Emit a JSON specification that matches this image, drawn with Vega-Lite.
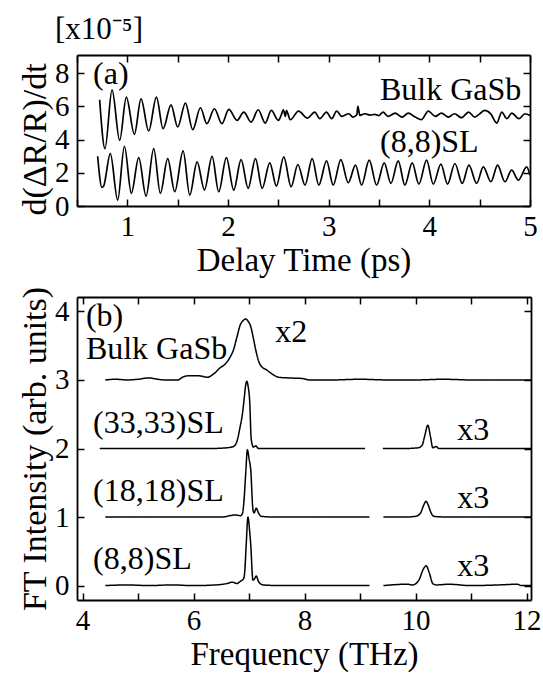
{
  "$schema": "https://vega.github.io/schema/vega-lite/v6.json",
  "background": "white",
  "padding": {"left": 18, "top": 14, "right": 5, "bottom": 5},
  "bounds": "flush",
  "spacing": 91,
  "config": {
    "font": "Liberation Serif",
    "view": {"stroke": null},
    "axis": {
      "labelFont": "Liberation Serif", "titleFont": "Liberation Serif",
      "labelFontSize": 29, "titleFontSize": 33, "titleFontWeight": "normal",
      "labelColor": "black", "titleColor": "black",
      "domainColor": "black", "tickColor": "black",
      "domainWidth": 1.8, "tickWidth": 1.5, "tickSize": -7,
      "grid": false, "labelPadding": 15, "labelFlush": false, "labelOverlap": false,
      "titlePadding": 2
    },
    "axisX": {"labelPadding": 13, "titlePadding": 3},
    "axisY": {"titleFontSize": 34},
    "title": {"font": "Liberation Serif", "fontWeight": "normal", "fontSize": 31, "color": "black"}
  },
  "vconcat": [
    {
      "width": 453, "height": 151,
      "title": {"text": "[x10⁻⁵]", "anchor": "start", "frame": "group", "dx": -22, "offset": 8},
      "layer": [
        {
          "data": {"values": [
            {"s":"bulk","t":0.725,"v":6.4},{"s":"bulk","t":0.778,"v":3.46},{"s":"bulk","t":0.848,"v":7.0},{"s":"bulk","t":0.924,"v":3.96},
            {"s":"bulk","t":0.99,"v":6.56},{"s":"bulk","t":1.07,"v":4.32},{"s":"bulk","t":1.136,"v":6.46},{"s":"bulk","t":1.212,"v":4.52},
            {"s":"bulk","t":1.289,"v":6.56},{"s":"bulk","t":1.355,"v":4.66},{"s":"bulk","t":1.434,"v":6.1},{"s":"bulk","t":1.5,"v":4.76},
            {"s":"bulk","t":1.577,"v":6.2},{"s":"bulk","t":1.65,"v":4.6},{"s":"bulk","t":1.726,"v":5.92},{"s":"bulk","t":1.79,"v":4.96},
            {"s":"bulk","t":1.865,"v":5.86},{"s":"bulk","t":1.94,"v":4.96},{"s":"bulk","t":2.008,"v":5.82},{"s":"bulk","t":2.09,"v":5.16},
            {"s":"bulk","t":2.157,"v":5.66},{"s":"bulk","t":2.23,"v":5.06},{"s":"bulk","t":2.3,"v":5.8},{"s":"bulk","t":2.37,"v":5.0},
            {"s":"bulk","t":2.43,"v":5.76},{"s":"bulk","t":2.5,"v":5.16},{"s":"bulk","t":2.53,"v":5.5},{"s":"bulk","t":2.55,"v":5.8},
            {"s":"bulk","t":2.57,"v":5.4},{"s":"bulk","t":2.58,"v":5.75},{"s":"bulk","t":2.62,"v":5.2},{"s":"bulk","t":2.7,"v":5.72},
            {"s":"bulk","t":2.79,"v":5.3},{"s":"bulk","t":2.862,"v":5.66},{"s":"bulk","t":2.912,"v":5.26},{"s":"bulk","t":2.978,"v":5.66},
            {"s":"bulk","t":3.03,"v":5.26},{"s":"bulk","t":3.08,"v":5.72},{"s":"bulk","t":3.13,"v":5.4},{"s":"bulk","t":3.2,"v":5.56},
            {"s":"bulk","t":3.24,"v":5.36},{"s":"bulk","t":3.28,"v":5.5},{"s":"bulk","t":3.29,"v":6.0},{"s":"bulk","t":3.31,"v":5.46},
            {"s":"bulk","t":3.36,"v":5.56},{"s":"bulk","t":3.41,"v":5.48},{"s":"bulk","t":3.46,"v":5.52},{"s":"bulk","t":3.5,"v":5.45},
            {"s":"bulk","t":3.54,"v":5.66},{"s":"bulk","t":3.59,"v":5.4},{"s":"bulk","t":3.66,"v":5.6},{"s":"bulk","t":3.73,"v":5.36},
            {"s":"bulk","t":3.79,"v":5.6},{"s":"bulk","t":3.86,"v":5.36},{"s":"bulk","t":3.92,"v":5.2},{"s":"bulk","t":3.99,"v":5.72},
            {"s":"bulk","t":4.06,"v":5.4},{"s":"bulk","t":4.12,"v":5.6},{"s":"bulk","t":4.19,"v":5.36},{"s":"bulk","t":4.25,"v":5.56},
            {"s":"bulk","t":4.32,"v":5.32},{"s":"bulk","t":4.39,"v":5.66},{"s":"bulk","t":4.45,"v":5.36},{"s":"bulk","t":4.5,"v":5.55},
            {"s":"bulk","t":4.55,"v":5.76},{"s":"bulk","t":4.61,"v":5.55},{"s":"bulk","t":4.67,"v":5.0},{"s":"bulk","t":4.72,"v":5.66},
            {"s":"bulk","t":4.77,"v":5.26},{"s":"bulk","t":4.82,"v":5.6},{"s":"bulk","t":4.89,"v":5.26},{"s":"bulk","t":4.95,"v":5.56},
            {"s":"bulk","t":5.0,"v":5.46},
            {"s":"sl","t":0.705,"v":3.0},{"s":"sl","t":0.748,"v":1.12},{"s":"sl","t":0.765,"v":1.2},{"s":"sl","t":0.831,"v":3.16},
            {"s":"sl","t":0.904,"v":0.36},{"s":"sl","t":0.971,"v":3.6},{"s":"sl","t":1.04,"v":0.76},{"s":"sl","t":1.113,"v":2.92},
            {"s":"sl","t":1.186,"v":0.6},{"s":"sl","t":1.262,"v":3.46},{"s":"sl","t":1.328,"v":0.76},{"s":"sl","t":1.401,"v":2.86},
            {"s":"sl","t":1.471,"v":0.86},{"s":"sl","t":1.554,"v":3.32},{"s":"sl","t":1.62,"v":0.66},{"s":"sl","t":1.693,"v":2.66},
            {"s":"sl","t":1.766,"v":0.96},{"s":"sl","t":1.842,"v":2.99},{"s":"sl","t":1.908,"v":0.86},{"s":"sl","t":1.984,"v":2.92},
            {"s":"sl","t":2.057,"v":0.96},{"s":"sl","t":2.13,"v":2.8},{"s":"sl","t":2.2,"v":1.06},{"s":"sl","t":2.273,"v":2.86},
            {"s":"sl","t":2.339,"v":1.06},{"s":"sl","t":2.415,"v":2.6},{"s":"sl","t":2.481,"v":1.2},{"s":"sl","t":2.554,"v":2.96},
            {"s":"sl","t":2.627,"v":1.16},{"s":"sl","t":2.694,"v":2.5},{"s":"sl","t":2.765,"v":1.26},{"s":"sl","t":2.836,"v":2.86},
            {"s":"sl","t":2.902,"v":1.26},{"s":"sl","t":2.979,"v":2.72},{"s":"sl","t":3.045,"v":1.26},{"s":"sl","t":3.121,"v":2.8},
            {"s":"sl","t":3.194,"v":1.4},{"s":"sl","t":3.267,"v":2.46},{"s":"sl","t":3.327,"v":1.26},{"s":"sl","t":3.403,"v":2.76},
            {"s":"sl","t":3.476,"v":1.26},{"s":"sl","t":3.552,"v":2.6},{"s":"sl","t":3.618,"v":1.36},{"s":"sl","t":3.691,"v":2.72},
            {"s":"sl","t":3.757,"v":1.26},{"s":"sl","t":3.83,"v":2.6},{"s":"sl","t":3.896,"v":1.32},{"s":"sl","t":3.973,"v":2.76},
            {"s":"sl","t":4.039,"v":1.32},{"s":"sl","t":4.115,"v":2.52},{"s":"sl","t":4.181,"v":1.32},{"s":"sl","t":4.254,"v":2.56},
            {"s":"sl","t":4.327,"v":1.36},{"s":"sl","t":4.393,"v":2.46},{"s":"sl","t":4.47,"v":1.36},{"s":"sl","t":4.536,"v":2.36},
            {"s":"sl","t":4.612,"v":1.46},{"s":"sl","t":4.678,"v":2.46},{"s":"sl","t":4.751,"v":1.46},{"s":"sl","t":4.818,"v":2.16},
            {"s":"sl","t":4.884,"v":1.56},{"s":"sl","t":4.967,"v":2.36},{"s":"sl","t":5.0,"v":1.86}
          ]},
          "mark": {"type": "line", "color": "black", "strokeWidth": 1.7, "interpolate": "monotone", "clip": true},
          "encoding": {
            "x": {"field": "t", "type": "quantitative", "scale": {"domain": [0.5, 5], "nice": false, "zero": false},
                  "axis": {"orient": "bottom", "title": "Delay Time (ps)", "values": [0.5,1,1.5,2,2.5,3,3.5,4,4.5,5],
                           "labelExpr": "datum.value % 1 === 0 ? format(datum.value, 'd') : ''"}},
            "y": {"field": "v", "type": "quantitative", "scale": {"domain": [0, 9.1], "nice": false},
                  "axis": {"orient": "left", "title": "d(ΔR/R)/dt", "values": [0,2,4,6,8], "titleY": 84}},
            "detail": {"field": "s"}
          }
        },
        {
          "data": {"values": [
            {"label": "(a)", "t": 0.66, "v": 7.38},
            {"label": "Bulk GaSb", "t": 3.51, "v": 6.36},
            {"label": "(8,8)SL", "t": 3.51, "v": 3.26}
          ]},
          "mark": {"type": "text", "align": "left", "baseline": "alphabetic", "fontSize": 32, "font": "Liberation Serif", "color": "black"},
          "encoding": {
            "x": {"field": "t", "type": "quantitative",
                  "axis": {"orient": "top", "title": null, "labels": false, "values": [0.5,1,1.5,2,2.5,3,3.5,4,4.5,5]}},
            "y": {"field": "v", "type": "quantitative",
                  "axis": {"orient": "right", "title": null, "labels": false, "values": [0,2,4,6,8]}},
            "text": {"field": "label"}
          }
        }
      ],
      "resolve": {"axis": {"x": "independent", "y": "independent"}}
    },
    {
      "width": 454, "height": 303,
      "layer": [
        {
          "data": {"values": [
            {"s":"bulk","g":1,"f":4.41,"v":3.0},{"s":"bulk","g":1,"f":4.6,"v":3.01},{"s":"bulk","g":1,"f":4.8,"v":3.0},{"s":"bulk","g":1,"f":5.0,"v":3.01},
            {"s":"bulk","g":1,"f":5.2,"v":3.03},{"s":"bulk","g":1,"f":5.35,"v":3.01},{"s":"bulk","g":1,"f":5.5,"v":3.0},{"s":"bulk","g":1,"f":5.72,"v":3.0},
            {"s":"bulk","g":1,"f":5.8,"v":3.04},{"s":"bulk","g":1,"f":5.9,"v":3.06},{"s":"bulk","g":1,"f":6.1,"v":3.06},{"s":"bulk","g":1,"f":6.25,"v":3.04},
            {"s":"bulk","g":1,"f":6.35,"v":3.08},{"s":"bulk","g":1,"f":6.47,"v":3.17},{"s":"bulk","g":1,"f":6.59,"v":3.25},{"s":"bulk","g":1,"f":6.67,"v":3.35},
            {"s":"bulk","g":1,"f":6.72,"v":3.44},{"s":"bulk","g":1,"f":6.78,"v":3.62},{"s":"bulk","g":1,"f":6.84,"v":3.8},{"s":"bulk","g":1,"f":6.9,"v":3.87},
            {"s":"bulk","g":1,"f":6.94,"v":3.89},{"s":"bulk","g":1,"f":6.98,"v":3.86},{"s":"bulk","g":1,"f":7.03,"v":3.78},{"s":"bulk","g":1,"f":7.08,"v":3.6},
            {"s":"bulk","g":1,"f":7.12,"v":3.44},{"s":"bulk","g":1,"f":7.17,"v":3.28},{"s":"bulk","g":1,"f":7.22,"v":3.2},{"s":"bulk","g":1,"f":7.31,"v":3.15},
            {"s":"bulk","g":1,"f":7.41,"v":3.09},{"s":"bulk","g":1,"f":7.53,"v":3.04},{"s":"bulk","g":1,"f":7.7,"v":3.03},{"s":"bulk","g":1,"f":7.97,"v":3.02},
            {"s":"bulk","g":1,"f":8.09,"v":3.0},{"s":"bulk","g":1,"f":8.5,"v":3.0},{"s":"bulk","g":1,"f":9.0,"v":3.01},{"s":"bulk","g":1,"f":9.5,"v":3.0},
            {"s":"bulk","g":1,"f":10.0,"v":3.0},{"s":"bulk","g":1,"f":10.5,"v":3.01},{"s":"bulk","g":1,"f":11.0,"v":3.0},{"s":"bulk","g":1,"f":11.5,"v":3.0},
            {"s":"bulk","g":1,"f":12.08,"v":3.0},
            {"s":"sl33","g":1,"f":4.31,"v":2.0},{"s":"sl33","g":1,"f":4.8,"v":2.0},{"s":"sl33","g":1,"f":5.3,"v":2.0},{"s":"sl33","g":1,"f":5.8,"v":2.0},
            {"s":"sl33","g":1,"f":6.3,"v":2.0},{"s":"sl33","g":1,"f":6.6,"v":2.01},{"s":"sl33","g":1,"f":6.72,"v":2.03},{"s":"sl33","g":1,"f":6.78,"v":2.1},
            {"s":"sl33","g":1,"f":6.84,"v":2.32},{"s":"sl33","g":1,"f":6.88,"v":2.5},{"s":"sl33","g":1,"f":6.91,"v":2.71},{"s":"sl33","g":1,"f":6.935,"v":2.9},
            {"s":"sl33","g":1,"f":6.96,"v":2.98},{"s":"sl33","g":1,"f":6.985,"v":2.9},{"s":"sl33","g":1,"f":7.01,"v":2.71},{"s":"sl33","g":1,"f":7.04,"v":2.13},
            {"s":"sl33","g":1,"f":7.08,"v":2.02},{"s":"sl33","g":1,"f":7.12,"v":2.04},{"s":"sl33","g":1,"f":7.17,"v":2.0},{"s":"sl33","g":1,"f":7.5,"v":2.0},
            {"s":"sl33","g":1,"f":8.0,"v":2.0},{"s":"sl33","g":1,"f":8.5,"v":2.0},{"s":"sl33","g":1,"f":9.09,"v":2.0},
            {"s":"sl33","g":2,"f":9.41,"v":2.0},{"s":"sl33","g":2,"f":9.8,"v":2.0},{"s":"sl33","g":2,"f":10.05,"v":2.01},{"s":"sl33","g":2,"f":10.12,"v":2.05},
            {"s":"sl33","g":2,"f":10.17,"v":2.2},{"s":"sl33","g":2,"f":10.22,"v":2.34},{"s":"sl33","g":2,"f":10.27,"v":2.17},{"s":"sl33","g":2,"f":10.31,"v":2.01},
            {"s":"sl33","g":2,"f":10.37,"v":2.03},{"s":"sl33","g":2,"f":10.42,"v":2.0},{"s":"sl33","g":2,"f":11.0,"v":2.0},{"s":"sl33","g":2,"f":11.5,"v":2.0},
            {"s":"sl33","g":2,"f":12.08,"v":2.0},
            {"s":"sl18","g":1,"f":4.41,"v":1.0},{"s":"sl18","g":1,"f":5.0,"v":1.0},{"s":"sl18","g":1,"f":5.5,"v":1.0},{"s":"sl18","g":1,"f":6.0,"v":1.0},
            {"s":"sl18","g":1,"f":6.5,"v":1.0},{"s":"sl18","g":1,"f":6.75,"v":1.03},{"s":"sl18","g":1,"f":6.85,"v":1.02},{"s":"sl18","g":1,"f":6.88,"v":1.05},
            {"s":"sl18","g":1,"f":6.91,"v":1.25},{"s":"sl18","g":1,"f":6.94,"v":1.64},{"s":"sl18","g":1,"f":6.97,"v":1.98},{"s":"sl18","g":1,"f":7.0,"v":1.85},
            {"s":"sl18","g":1,"f":7.03,"v":1.69},{"s":"sl18","g":1,"f":7.07,"v":1.11},{"s":"sl18","g":1,"f":7.09,"v":1.06},{"s":"sl18","g":1,"f":7.13,"v":1.13},
            {"s":"sl18","g":1,"f":7.17,"v":1.06},{"s":"sl18","g":1,"f":7.22,"v":1.01},{"s":"sl18","g":1,"f":7.5,"v":1.0},{"s":"sl18","g":1,"f":8.0,"v":1.0},
            {"s":"sl18","g":1,"f":8.5,"v":1.0},{"s":"sl18","g":1,"f":9.17,"v":1.0},
            {"s":"sl18","g":2,"f":9.42,"v":1.0},{"s":"sl18","g":2,"f":9.8,"v":1.0},{"s":"sl18","g":2,"f":10.0,"v":1.01},{"s":"sl18","g":2,"f":10.09,"v":1.06},
            {"s":"sl18","g":2,"f":10.14,"v":1.16},{"s":"sl18","g":2,"f":10.19,"v":1.23},{"s":"sl18","g":2,"f":10.23,"v":1.17},{"s":"sl18","g":2,"f":10.27,"v":1.08},
            {"s":"sl18","g":2,"f":10.33,"v":1.01},{"s":"sl18","g":2,"f":10.6,"v":1.0},{"s":"sl18","g":2,"f":11.0,"v":1.0},{"s":"sl18","g":2,"f":11.5,"v":1.0},
            {"s":"sl18","g":2,"f":12.08,"v":1.0},
            {"s":"sl8","g":1,"f":4.41,"v":0.0},{"s":"sl8","g":1,"f":4.8,"v":0.01},{"s":"sl8","g":1,"f":5.2,"v":0.0},{"s":"sl8","g":1,"f":5.6,"v":0.01},
            {"s":"sl8","g":1,"f":6.0,"v":0.0},{"s":"sl8","g":1,"f":6.4,"v":0.01},{"s":"sl8","g":1,"f":6.6,"v":0.03},{"s":"sl8","g":1,"f":6.7,"v":0.05},
            {"s":"sl8","g":1,"f":6.78,"v":0.03},{"s":"sl8","g":1,"f":6.84,"v":0.06},{"s":"sl8","g":1,"f":6.9,"v":0.1},{"s":"sl8","g":1,"f":6.92,"v":0.18},
            {"s":"sl8","g":1,"f":6.95,"v":0.62},{"s":"sl8","g":1,"f":6.98,"v":1.0},{"s":"sl8","g":1,"f":7.01,"v":0.8},{"s":"sl8","g":1,"f":7.03,"v":0.6},
            {"s":"sl8","g":1,"f":7.07,"v":0.08},{"s":"sl8","g":1,"f":7.1,"v":0.1},{"s":"sl8","g":1,"f":7.13,"v":0.14},{"s":"sl8","g":1,"f":7.17,"v":0.06},
            {"s":"sl8","g":1,"f":7.25,"v":0.01},{"s":"sl8","g":1,"f":7.6,"v":0.0},{"s":"sl8","g":1,"f":8.0,"v":0.0},{"s":"sl8","g":1,"f":8.5,"v":0.0},
            {"s":"sl8","g":1,"f":9.17,"v":0.0},
            {"s":"sl8","g":2,"f":9.42,"v":0.0},{"s":"sl8","g":2,"f":9.84,"v":0.02},{"s":"sl8","g":2,"f":9.95,"v":0.01},{"s":"sl8","g":2,"f":10.06,"v":0.08},
            {"s":"sl8","g":2,"f":10.14,"v":0.24},{"s":"sl8","g":2,"f":10.19,"v":0.29},{"s":"sl8","g":2,"f":10.25,"v":0.18},{"s":"sl8","g":2,"f":10.31,"v":0.03},
            {"s":"sl8","g":2,"f":10.37,"v":0.01},{"s":"sl8","g":2,"f":10.6,"v":0.02},{"s":"sl8","g":2,"f":11.0,"v":0.0},{"s":"sl8","g":2,"f":11.5,"v":0.01},
            {"s":"sl8","g":2,"f":11.84,"v":0.02},{"s":"sl8","g":2,"f":11.9,"v":0.0},{"s":"sl8","g":2,"f":12.08,"v":0.0}
          ]},
          "mark": {"type": "line", "color": "black", "strokeWidth": 1.5, "interpolate": "monotone", "clip": true},
          "encoding": {
            "x": {"field": "f", "type": "quantitative", "scale": {"domain": [3.9, 12.08], "nice": false, "zero": false},
                  "axis": {"orient": "bottom", "title": "Frequency (THz)", "values": [4,5,6,7,8,9,10,11,12],
                           "labelExpr": "datum.value % 2 === 0 ? format(datum.value, 'd') : ''"}},
            "y": {"field": "v", "type": "quantitative", "scale": {"domain": [-0.21, 4.21], "nice": false, "zero": false},
                  "axis": {"orient": "left", "title": "FT Intensity (arb. units)", "values": [0,1,2,3,4]}},
            "detail": {"field": "s"},
            "order": {"field": "f"},
            "strokeDash": {"field": "g", "type": "nominal", "legend": null, "scale": {"range": [[1,0],[1,0]]}}
          }
        },
        {
          "data": {"values": [
            {"label": "(b)", "f": 4.06, "v": 3.79},
            {"label": "Bulk GaSb", "f": 4.06, "v": 3.3},
            {"label": "x2", "f": 7.47, "v": 3.55},
            {"label": "(33,33)SL", "f": 4.19, "v": 2.22},
            {"label": "x3", "f": 10.75, "v": 2.13},
            {"label": "(18,18)SL", "f": 4.19, "v": 1.23},
            {"label": "x3", "f": 10.75, "v": 1.13},
            {"label": "(8,8)SL", "f": 4.19, "v": 0.24},
            {"label": "x3", "f": 10.75, "v": 0.14}
          ]},
          "mark": {"type": "text", "align": "left", "baseline": "alphabetic", "fontSize": 32, "font": "Liberation Serif", "color": "black"},
          "encoding": {
            "x": {"field": "f", "type": "quantitative",
                  "axis": {"orient": "top", "title": null, "labels": false, "values": [4,5,6,7,8,9,10,11,12]}},
            "y": {"field": "v", "type": "quantitative",
                  "axis": {"orient": "right", "title": null, "labels": false, "values": [0,1,2,3,4]}},
            "text": {"field": "label"}
          }
        }
      ],
      "resolve": {"axis": {"x": "independent", "y": "independent"}}
    }
  ]
}
